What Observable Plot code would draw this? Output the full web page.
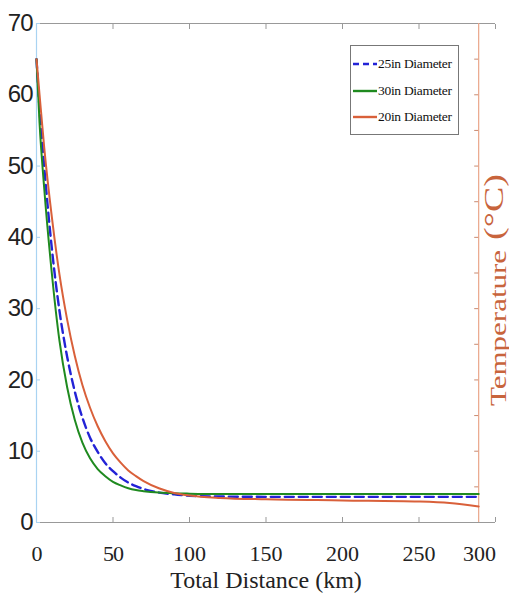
<!DOCTYPE html>
<html><head><meta charset="utf-8">
<script src="https://cdn.jsdelivr.net/npm/d3@7"></script>
<script src="https://cdn.jsdelivr.net/npm/@observablehq/plot@0.6"></script>
<style>
body{margin:0;background:#fff;}
#wrap{position:relative;width:509px;height:605px;overflow:hidden;}
#legend{position:absolute;left:350px;top:45px;width:109px;height:90px;border:1px solid #777;background:#fff;box-sizing:border-box;font-family:"Liberation Serif","Times New Roman",serif;font-size:13.5px;color:#111;}
.item{position:absolute;left:0;height:20px;display:flex;align-items:center;white-space:nowrap;letter-spacing:-0.3px;}
.item svg{margin-left:2px;margin-right:1px;}
</style></head><body><div id="wrap"><div id="legend"></div></div>
<script>
// ---- data ----
const distance = [0, 2, 5, 10, 15, 20, 25, 30, 35, 40, 45, 50, 55, 60, 65, 70, 80, 90, 100, 120, 150, 200, 250, 270, 289];
const temp25 = [65, 58, 50, 38.5, 29.7, 23.3, 18.4, 14.7, 11.9, 9.9, 8.3, 7.2, 6.3, 5.6, 5.1, 4.7, 4.2, 3.95, 3.75, 3.65, 3.6, 3.6, 3.6, 3.6, 3.6];
const temp30 = [65, 56, 47, 35, 25.5, 19, 14.4, 11.2, 9.0, 7.5, 6.5, 5.7, 5.2, 4.8, 4.55, 4.4, 4.2, 4.1, 4.05, 4.0, 4.0, 4.0, 4.0, 4.0, 4.0];
const temp20 = [65, 60, 52.7, 42.9, 34.8, 28.5, 23.4, 19.3, 16.1, 13.5, 11.4, 9.7, 8.4, 7.3, 6.5, 5.8, 4.8, 4.15, 3.8, 3.45, 3.25, 3.1, 2.95, 2.75, 2.25];
const seriesNames = ["25in Diameter", "30in Diameter", "20in Diameter"];
const seriesColors = ["#2323d6", "#1f8a1f", "#d9603a"];
const xTicks = [0, 50, 100, 150, 200, 250];
const xLastTick = [300];
const yTicks = [0, 10, 20, 30, 40, 50, 60, 70];
const rightTicks = [5, 10, 15, 20, 25, 30, 35, 40, 45, 50, 55, 60, 65];
const rightAxisX = 289;
const xLabel = "Total Distance (km)";
const rightLabelA = "Temperature";
const rightLabelB = "(°C)";

const seriesValues = [temp25, temp30, temp20];
const long = [];
seriesNames.forEach((s, k) => distance.forEach((d, i) => long.push({distance: d, temp: seriesValues[k][i], series: s})));

const serif = "Liberation Serif, Times New Roman, serif";
const sans = "Liberation Sans, Arial, sans-serif";
const orangeAxis = "#eaa68a";
const labelOrange = "#c8643c";

const lineMark = (k, extra) => Plot.line(long, {
  filter: d => d.series === seriesNames[k],
  x: "distance", y: "temp", stroke: seriesColors[k], strokeWidth: 2, curve: "monotone-x", ...extra
});

const chart = Plot.plot({
  width: 509, height: 605,
  marginLeft: 36, marginRight: 14, marginTop: 23, marginBottom: 83,
  style: {background: "transparent", overflow: "visible", fontFamily: serif},
  x: {domain: [0, 300]},
  y: {domain: [0, 70]},
  marks: [
    Plot.ruleY([70], {stroke: "#999", strokeWidth: 1.2}),
    Plot.ruleY([0], {stroke: "#999", strokeWidth: 1.2}),
    Plot.axisX(xTicks.concat(xLastTick), {anchor: "top", tickSize: -5, tickFormat: () => "", stroke: "#999", label: null}),
    Plot.axisX(xTicks.concat(xLastTick), {anchor: "bottom", tickSize: -5, tickFormat: () => "", stroke: "#999", label: null}),
    Plot.text(xTicks, {x: d => d, frameAnchor: "bottom", dy: 31, lineAnchor: "middle", fontSize: 22, fontFamily: serif, fill: "#222"}),
    Plot.text(xLastTick, {x: d => d, frameAnchor: "bottom", dx: -16, dy: 31, lineAnchor: "middle", fontSize: 22, fontFamily: serif, fill: "#222"}),
    Plot.text([xLabel], {frameAnchor: "bottom", dy: 58, lineAnchor: "middle", fontSize: 24, fontFamily: serif, fill: "#222"}),
    Plot.ruleX([0], {stroke: "#a9d3f2", strokeWidth: 1.2}),
    Plot.axisY(yTicks, {anchor: "left", tickSize: -4, tickFormat: () => "", stroke: "#a9d3f2", label: null}),
    Plot.text(yTicks, {y: d => d, frameAnchor: "left", textAnchor: "end", dx: -4, lineAnchor: "middle", fontSize: 24, fontFamily: sans, fill: "#222"}),
    Plot.ruleX([rightAxisX], {stroke: orangeAxis, strokeWidth: 1.2}),
    Plot.ruleY(rightTicks, {x1: rightAxisX - 2.6, x2: rightAxisX, stroke: "#c98a70"}),
    Plot.text([rightLabelA], {frameAnchor: "right", rotate: -90, textAnchor: "middle", lineAnchor: "bottom", dx: 10, dy: 55, fontSize: 31, fontFamily: serif, fill: labelOrange}),
    Plot.text([rightLabelB], {frameAnchor: "right", rotate: -90, textAnchor: "middle", lineAnchor: "bottom", dx: 7, dy: -66, fontSize: 38, fontFamily: serif, fill: labelOrange}),
    lineMark(0, {strokeDasharray: "9,5", strokeWidth: 2.4}),
    lineMark(1),
    lineMark(2)
  ]
});
document.getElementById("wrap").prepend(chart);

const root = d3.select(chart);
// narrow the left tick labels a little, as in the reference
root.selectAll("text").each(function() {
  const t = this.textContent;
  if (yTicks.map(String).includes(t) && this.getAttribute("text-anchor") !== "middle") {
    this.style.letterSpacing = "-1px";
  }
  if (t === rightLabelA || t === rightLabelB) {
    const tr = this.getAttribute("transform") || "";
    this.setAttribute("transform", tr + " scale(1,0.72)");
  }
});

const legend = document.getElementById("legend");
const tops = [8, 35, 61];
seriesNames.forEach((s, k) => {
  const it = document.createElement("div");
  it.className = "item";
  it.style.top = tops[k] + "px";
  const dash = k === 0 ? 'stroke-dasharray="6,4"' : "";
  it.innerHTML = `<svg width="24" height="6"><line x1="0" y1="3" x2="24" y2="3" stroke="${seriesColors[k]}" stroke-width="2.4" ${dash}/></svg><span>${s}</span>`;
  legend.appendChild(it);
});
</script>
</body></html>
